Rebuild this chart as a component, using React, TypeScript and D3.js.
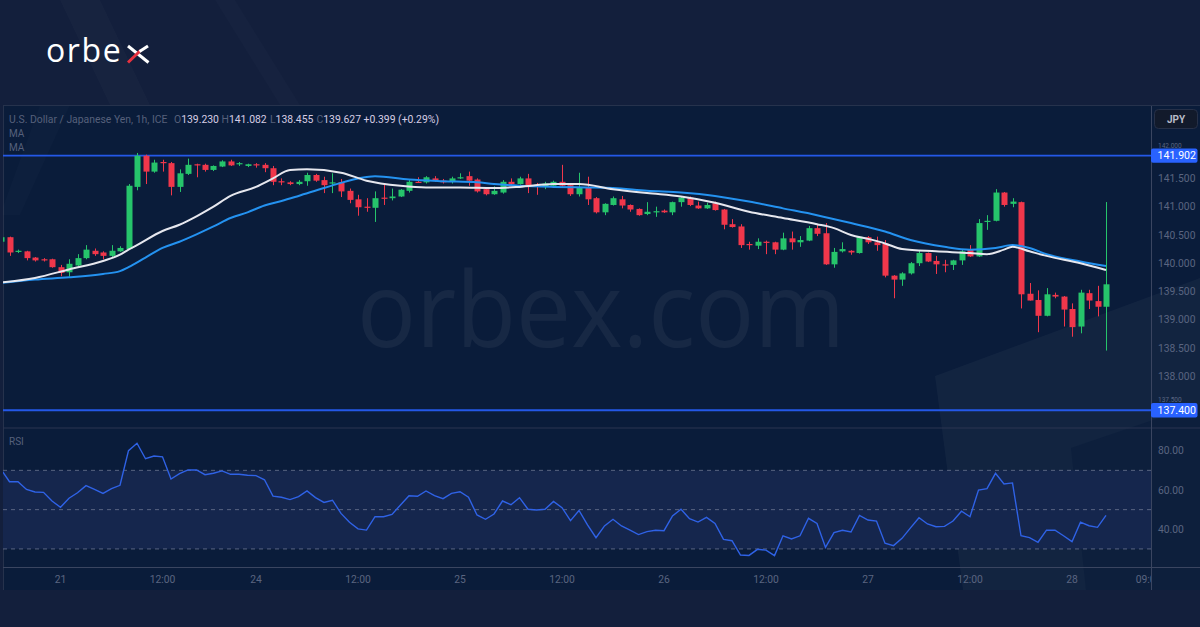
import React from 'react';
import * as d3 from 'd3';

// ---------- DATA ----------
// Hourly USD/JPY bars, index -1 .. 129 : [open, high, low, close]
const ohlc: [number, number, number, number][] = [
  [140.38, 140.47, 140.36, 140.46],
  [140.46, 140.47, 140.13, 140.19],
  [140.20, 140.24, 140.18, 140.22],
  [140.21, 140.22, 140.05, 140.09],
  [140.10, 140.11, 140.03, 140.05],
  [140.07, 140.09, 140.03, 140.05],
  [140.07, 140.08, 139.92, 139.93],
  [139.93, 139.97, 139.77, 139.83],
  [139.84, 140.07, 139.76, 139.99],
  [139.96, 140.16, 139.95, 140.09],
  [140.09, 140.32, 140.07, 140.24],
  [140.22, 140.26, 140.13, 140.16],
  [140.19, 140.21, 140.07, 140.13],
  [140.13, 140.32, 140.10, 140.22],
  [140.21, 140.30, 140.20, 140.27],
  [140.25, 141.40, 140.24, 141.37],
  [141.35, 141.95, 141.29, 141.90],
  [141.90, 141.92, 141.40, 141.62],
  [141.62, 141.83, 141.60, 141.78],
  [141.79, 141.83, 141.62, 141.77],
  [141.77, 141.79, 141.20, 141.35],
  [141.35, 141.66, 141.26, 141.59],
  [141.58, 141.85, 141.56, 141.74],
  [141.75, 141.76, 141.52, 141.73],
  [141.74, 141.76, 141.62, 141.65],
  [141.65, 141.73, 141.63, 141.72],
  [141.71, 141.82, 141.70, 141.80],
  [141.80, 141.83, 141.72, 141.73],
  [141.75, 141.79, 141.72, 141.77],
  [141.72, 141.76, 141.70, 141.75],
  [141.75, 141.77, 141.69, 141.74],
  [141.74, 141.77, 141.61, 141.68],
  [141.68, 141.72, 141.38, 141.44],
  [141.45, 141.50, 141.38, 141.43],
  [141.43, 141.45, 141.38, 141.40],
  [141.40, 141.47, 141.38, 141.44],
  [141.45, 141.60, 141.37, 141.56],
  [141.56, 141.58, 141.44, 141.46],
  [141.47, 141.53, 141.24, 141.38],
  [141.41, 141.59, 141.24, 141.43],
  [141.43, 141.49, 141.17, 141.27],
  [141.28, 141.32, 141.06, 141.12],
  [141.13, 141.21, 140.84, 140.99],
  [141.00, 141.15, 140.91, 140.98],
  [140.98, 141.27, 140.73, 141.15],
  [141.16, 141.41, 141.03, 141.14],
  [141.15, 141.32, 141.11, 141.18],
  [141.18, 141.31, 141.17, 141.30],
  [141.28, 141.47, 141.25, 141.44],
  [141.44, 141.52, 141.42, 141.43],
  [141.43, 141.54, 141.41, 141.52],
  [141.50, 141.54, 141.44, 141.46],
  [141.46, 141.49, 141.41, 141.43],
  [141.44, 141.53, 141.41, 141.50],
  [141.51, 141.59, 141.49, 141.52],
  [141.54, 141.62, 141.37, 141.46],
  [141.48, 141.50, 141.25, 141.27],
  [141.31, 141.33, 141.20, 141.22],
  [141.22, 141.36, 141.21, 141.28],
  [141.25, 141.47, 141.23, 141.44],
  [141.44, 141.50, 141.38, 141.40],
  [141.40, 141.53, 141.39, 141.50],
  [141.50, 141.58, 141.24, 141.35],
  [141.38, 141.42, 141.21, 141.35],
  [141.35, 141.44, 141.31, 141.41],
  [141.37, 141.46, 141.35, 141.44],
  [141.44, 141.74, 141.35, 141.37],
  [141.38, 141.41, 141.19, 141.22],
  [141.22, 141.60, 141.18, 141.34],
  [141.34, 141.53, 141.03, 141.13],
  [141.15, 141.17, 140.88, 140.90],
  [140.90, 141.06, 140.85, 141.05],
  [141.03, 141.18, 141.02, 141.15],
  [141.13, 141.19, 140.97, 141.02],
  [141.03, 141.04, 140.91, 140.95],
  [140.96, 140.97, 140.84, 140.85],
  [140.87, 141.08, 140.85, 140.91],
  [140.91, 141.00, 140.82, 140.92],
  [140.93, 140.95, 140.89, 140.90],
  [140.90, 141.09, 140.85, 141.08],
  [141.08, 141.18, 141.00, 141.16],
  [141.16, 141.18, 141.01, 141.03],
  [141.02, 141.09, 140.96, 140.97],
  [140.97, 141.07, 140.96, 141.03],
  [141.06, 141.09, 140.93, 140.94],
  [140.95, 140.96, 140.60, 140.68],
  [140.69, 140.78, 140.63, 140.64],
  [140.65, 140.69, 140.27, 140.32],
  [140.34, 140.38, 140.24, 140.32],
  [140.31, 140.44, 140.25, 140.38],
  [140.38, 140.40, 140.16, 140.37],
  [140.37, 140.38, 140.16, 140.24],
  [140.24, 140.54, 140.23, 140.44],
  [140.44, 140.56, 140.24, 140.37],
  [140.37, 140.48, 140.29, 140.41],
  [140.40, 140.66, 140.39, 140.62],
  [140.62, 140.69, 140.48, 140.52],
  [140.53, 140.71, 139.97, 139.98],
  [139.98, 140.27, 139.92, 140.20],
  [140.21, 140.37, 140.19, 140.25],
  [140.22, 140.23, 140.15, 140.19],
  [140.18, 140.48, 140.17, 140.47],
  [140.46, 140.48, 140.34, 140.37],
  [140.37, 140.47, 140.22, 140.32],
  [140.35, 140.41, 139.75, 139.78],
  [139.78, 139.79, 139.38, 139.71],
  [139.71, 139.84, 139.60, 139.82],
  [139.82, 140.02, 139.80, 140.00],
  [140.00, 140.22, 139.95, 140.18],
  [140.18, 140.19, 140.02, 140.03],
  [140.04, 140.13, 139.81, 139.98],
  [139.98, 140.06, 139.84, 139.96],
  [139.97, 140.06, 139.88, 140.05],
  [140.05, 140.25, 139.97, 140.21],
  [140.24, 140.32, 140.11, 140.12],
  [140.12, 140.78, 140.11, 140.71],
  [140.73, 140.85, 140.59, 140.75],
  [140.75, 141.31, 140.74, 141.25],
  [141.25, 141.26, 141.00, 141.03],
  [141.05, 141.15, 140.99, 141.09],
  [141.08, 141.09, 139.20, 139.45],
  [139.46, 139.65, 139.34, 139.34],
  [139.35, 139.52, 138.78, 139.07],
  [139.07, 139.56, 139.06, 139.45],
  [139.44, 139.48, 139.38, 139.41],
  [139.41, 139.42, 138.88, 139.18],
  [139.19, 139.29, 138.70, 138.87],
  [138.88, 139.53, 138.76, 139.48],
  [139.47, 139.53, 139.19, 139.34],
  [139.33, 139.60, 139.06, 139.23],
  [139.23, 141.082, 138.455, 139.627],
];
const firstBar = -1;

// RSI(14) per bar, index -1 .. 129
const rsiValues = [
  70.5, 64.2, 64.2, 60.3, 59.0, 58.8, 54.4, 51.2, 55.8, 58.6, 62.2, 60.3, 58.3, 60.7, 62.4, 80.0,
  83.8, 75.9, 77.3, 76.9, 65.6, 68.3, 70.2, 70.2, 67.8, 68.5, 69.7, 68.0, 68.0, 67.5, 67.3, 65.2,
  56.9, 56.3, 55.1, 56.6, 59.5, 56.1, 53.7, 54.8, 48.1, 43.6, 40.2, 39.6, 46.4, 46.4, 47.6, 52.4,
  57.1, 56.8, 59.5, 57.1, 55.6, 58.3, 59.1, 56.3, 47.3, 45.1, 47.8, 54.4, 52.5, 56.1, 50.2, 49.8,
  50.2, 54.2,
  51.0, 44.4, 49.6, 42.2, 35.7, 41.7, 45.1, 41.7, 39.6, 37.3,
  38.8, 39.5, 39.3, 46.8, 50.2, 45.4, 43.7, 46.1, 43.0, 34.9,
  34.2, 26.9, 26.7, 29.8, 29.4, 26.6, 36.7, 35.1, 36.7, 45.6,
  43.0, 30.8, 38.3, 39.5, 38.6, 47.1, 44.7, 44.2, 32.9, 31.7,
  35.4, 40.7, 45.9, 42.7, 41.3, 41.5, 44.2, 49.2, 46.4, 60.0,
  60.7, 68.5, 63.1, 63.6, 36.7, 35.8, 33.4, 39.6, 39.5, 36.7,
  33.7, 43.6, 41.8, 41.0, 47.1,
];

// Fast MA (white) read at bar indices
const fastIdx = [-1, 3, 7, 11, 13, 14, 15, 18, 20, 22, 24, 26, 29, 31, 33, 35, 39, 42, 46, 49, 53, 57, 60, 64, 67, 71, 75, 79, 83, 87, 91, 95, 97, 99, 101, 103, 105, 109, 113, 115, 117, 118, 120, 122, 126, 129];
const fastVals = [139.66, 139.74, 139.89, 140.04, 140.15, 140.24, 140.32, 140.57, 140.68, 140.83, 141.00, 141.19, 141.35, 141.50, 141.65, 141.66, 141.60, 141.46, 141.37, 141.34, 141.34, 141.33, 141.35, 141.40, 141.40, 141.31, 141.24, 141.18, 141.07, 140.91, 140.80, 140.69, 140.62, 140.50, 140.43, 140.35, 140.25, 140.21, 140.18, 140.16, 140.24, 140.29, 140.21, 140.13, 140.00, 139.88];

// Slow MA (blue) read at bar indices
const slowIdx = [-1, 3, 7, 11, 13, 14, 16, 18, 20, 22, 24, 26, 28, 30, 32, 34, 37, 41, 43, 47, 51, 55, 57, 60, 64, 68, 71, 75, 79, 83, 87, 91, 95, 99, 103, 106, 110, 113, 116, 118, 120, 122, 126, 129];
const slowVals = [139.65, 139.71, 139.75, 139.81, 139.86, 139.93, 140.10, 140.27, 140.38, 140.51, 140.65, 140.80, 140.90, 141.02, 141.10, 141.19, 141.33, 141.50, 141.54, 141.48, 141.45, 141.43, 141.40, 141.37, 141.35, 141.34, 141.33, 141.28, 141.25, 141.19, 141.09, 140.97, 140.85, 140.71, 140.56, 140.41, 140.29, 140.24, 140.27, 140.32, 140.27, 140.16, 140.03, 139.95];

const priceTicks = [142, 141.5, 141, 140.5, 140, 139.5, 139, 138.5, 138, 137.5];
const rsiTicks = [80, 60, 40];
const rsiLevels = [70, 50, 30];
const timeTickIdx = [6, 18, 29, 41, 53, 65, 77, 89, 101, 113, 125, 134];
const timeTickLabels = ['21', '12:00', '24', '12:00', '25', '12:00', '26', '12:00', '27', '12:00', '28', '09:00'];
const levelLines = [141.902, 137.4];

const titleText = 'U.S. Dollar / Japanese Yen, 1h, ICE';
const ohlcLabels = ['O', 'H', 'L', 'C'];
const ohlcHeader = ['139.230', '141.082', '138.455', '139.627'];
const changeText = '+0.399 (+0.29%)';

// ---------- LAYOUT ----------
const W = 1200;
const H = 627;
const plotL = 3;
const plotR = 1151;
const priceTop = 106;
const priceBottom = 427.5;
const rsiTop = 428.5;
const rsiBottom = 567.5;
const chartBottom = 590;

const UP = '#26c46b';
const DOWN = '#f0374b';
const FONT = 'Roboto, "DejaVu Sans", sans-serif';
const AXIS_TXT = '#5a6580';

export default function App() {
  const x = d3.scaleLinear().domain([-1, 134]).range([1, 1148.5]);
  const y = d3.scaleLinear().domain([138, 141.5]).range([376.3, 178.4]);
  const yr = d3.scaleLinear().domain([40, 80]).range([529.3, 450.7]);

  const fastLine = d3
    .line<number>()
    .x((_, i) => x(fastIdx[i]))
    .y((v) => y(v))
    .curve(d3.curveMonotoneX)(fastVals) as string;
  const slowLine = d3
    .line<number>()
    .x((_, i) => x(slowIdx[i]))
    .y((v) => y(v))
    .curve(d3.curveMonotoneX)(slowVals) as string;
  const rsiLine = d3
    .line<number>()
    .x((_, i) => x(firstBar + i))
    .y((v) => yr(v))(rsiValues) as string;

  const bodyW = 6;

  return (
    <svg width={W} height={H} style={{ display: 'block', position: 'absolute', left: 0, top: 0 }}>
      <defs>
        <clipPath id="pclip">
          <rect x={plotL} y={priceTop} width={plotR - plotL} height={priceBottom - priceTop} />
        </clipPath>
        <clipPath id="rclip">
          <rect x={plotL} y={rsiTop} width={plotR - plotL} height={rsiBottom - rsiTop} />
        </clipPath>
        <clipPath id="tclip">
          <rect x={plotL} y={rsiBottom} width={plotR - plotL} height={chartBottom - rsiBottom} />
        </clipPath>
      </defs>

      {/* outer background */}
      <rect x={0} y={0} width={W} height={H} fill="#131f3c" />
      <polygon points="60,0 100,0 150,105 110,105" fill="#ffffff" opacity={0.018} />
      <polygon points="215,0 235,0 300,105 280,105" fill="#ffffff" opacity={0.015} />

      {/* logo */}
      <text x={46} y={62} fontFamily='"Open Sans", Lato, sans-serif' fontSize={32} letterSpacing={1.6} fill="#ffffff">
        orbe
      </text>
      <line x1={128} y1={46} x2={148.5} y2={62.5} stroke="#ffffff" strokeWidth={3} />
      <line x1={128} y1={62.5} x2={140.5} y2={50.5} stroke="#e8313f" strokeWidth={3} />
      <line x1={139.5} y1={51.5} x2={148} y2={46} stroke="#ffffff" strokeWidth={3} />

      {/* chart panel */}
      <rect x={plotL} y={105} width={W - plotL} height={chartBottom - 105} fill="#0a1c3a" />
      <line x1={plotL} y1={105.5} x2={W} y2={105.5} stroke="#26324c" strokeWidth={1} />
      <line x1={plotL + 0.5} y1={105} x2={plotL + 0.5} y2={chartBottom} stroke="#26324c" strokeWidth={1} />

      {/* decorative shapes */}
      <polygon points="40,105 70,105 20,215 0,215" fill="#ffffff" opacity={0.015} clipPath="url(#pclip)" />
      <polygon points="935,376 1200,278 1200,590 963,590" fill="#ffffff" opacity={0.035} />
      <polygon points="1071,448 1200,404 1200,590 1086,590" fill="#0a1c3a" opacity={0.6} />
      <text
        x={601}
        y={347}
        textAnchor="middle"
        fontFamily='"Open Sans", sans-serif'
        fontSize={104}
        fill="#ffffff"
        opacity={0.05}
        textLength={488}
        lengthAdjust="spacingAndGlyphs"
      >
        orbex.com
      </text>

      {/* pane separators & axis lines */}
      <line x1={plotL} y1={428} x2={W} y2={428} stroke="#2a3550" strokeWidth={1} />
      <line x1={plotL} y1={567.5} x2={W} y2={567.5} stroke="#3a4560" strokeWidth={1} />
      <line x1={plotR + 0.5} y1={106} x2={plotR + 0.5} y2={chartBottom} stroke="#3a4560" strokeWidth={1} />

      {/* RSI band and levels */}
      <rect x={plotL} y={yr(70)} width={plotR - plotL} height={yr(30) - yr(70)} fill="#15264d" />
      {rsiLevels.map((v) => (
        <line key={v} x1={plotL} x2={plotR} y1={yr(v)} y2={yr(v)} stroke="#6b7590" strokeWidth={1} strokeDasharray="4 4" opacity={0.8} />
      ))}
      <path d={rsiLine} fill="none" stroke="#2f62e6" strokeWidth={1.4} clipPath="url(#rclip)" />
      <text x={9} y={445} fontFamily={FONT} fontSize={10} fill="#56607a">RSI</text>

      {/* price pane */}
      <g clipPath="url(#pclip)">
        {levelLines.map((v) => (
          <line key={v} x1={plotL} x2={plotR} y1={y(v)} y2={y(v)} stroke="#2458e8" strokeWidth={1.8} />
        ))}
        {ohlc.map((d, k) => {
          const i = firstBar + k;
          const [o, h, l, c] = d;
          const cx = Math.round(x(i));
          const col = c >= o ? UP : DOWN;
          const top = y(Math.max(o, c));
          const bot = y(Math.min(o, c));
          return (
            <g key={k}>
              <line x1={cx + 0.5} x2={cx + 0.5} y1={y(h)} y2={y(l)} stroke={col} strokeWidth={1} />
              <rect x={cx + 0.5 - bodyW / 2} y={top} width={bodyW} height={Math.max(1.2, bot - top)} fill={col} />
            </g>
          );
        })}
        <path d={slowLine} fill="none" stroke="#2492f0" strokeWidth={2} />
        <path d={fastLine} fill="none" stroke="#e6e7ee" strokeWidth={2} />
      </g>

      {/* header */}
      <text x={9} y={122.5} fontFamily={FONT} fontSize={10.4} fill="#56607a">{titleText}</text>
      {ohlcLabels.map((lb, k) => (
        <text key={lb} x={[174, 221.5, 270, 316.5][k]} y={122.5} fontFamily={FONT} fontSize={10.4}>
          <tspan fill="#56607a">{lb}</tspan>
          <tspan fill="#d6cde4">{ohlcHeader[k]}</tspan>
        </text>
      ))}
      <text x={363.5} y={122.5} fontFamily={FONT} fontSize={10.4} fill="#d6cde4">{changeText}</text>
      <text x={9} y={137} fontFamily={FONT} fontSize={10} fill="#56607a">MA</text>
      <text x={9} y={151} fontFamily={FONT} fontSize={10} fill="#56607a">MA</text>

      {/* price axis: ticks crowded by the level tags are shrunk just above them */}
      {priceTicks.map((v) => {
        const yy = y(v);
        const tag = levelLines.find((lv) => Math.abs(y(lv) - yy) < 9);
        const crowded = tag !== undefined;
        return (
          <text
            key={v}
            x={1158}
            y={crowded ? y(tag as number) - 8 : yy + 3.7}
            fontFamily={FONT}
            fontSize={crowded ? 6.5 : 10.3}
            fill={AXIS_TXT}
          >
            {v.toFixed(3)}
          </text>
        );
      })}
      {levelLines.map((v) => (
        <g key={v}>
          <rect x={1151} y={y(v) - 7.2} width={46.5} height={14.4} rx={2} fill="#2962ff" />
          <text x={1157.5} y={y(v) + 3.8} fontFamily={FONT} fontSize={10.6} fill="#ffffff">
            {v.toFixed(3)}
          </text>
        </g>
      ))}
      <rect x={1154.5} y={109.5} width={43} height={19} rx={4} fill="#121a2b" stroke="#263048" />
      <text x={1176} y={122.5} textAnchor="middle" fontFamily={FONT} fontSize={10} fontWeight={700} fill="#b8bcc8">JPY</text>

      {/* RSI axis */}
      {rsiTicks.map((v) => (
        <text key={v} x={1158} y={yr(v) + 3.7} fontFamily={FONT} fontSize={10.3} fill={AXIS_TXT}>
          {v.toFixed(2)}
        </text>
      ))}

      {/* time axis */}
      <g clipPath="url(#tclip)">
        {timeTickIdx.map((t, k) => (
          <text key={k} x={x(t)} y={583} textAnchor="middle" fontFamily={FONT} fontSize={10.3} fill={AXIS_TXT}>
            {timeTickLabels[k]}
          </text>
        ))}
      </g>
    </svg>
  );
}
